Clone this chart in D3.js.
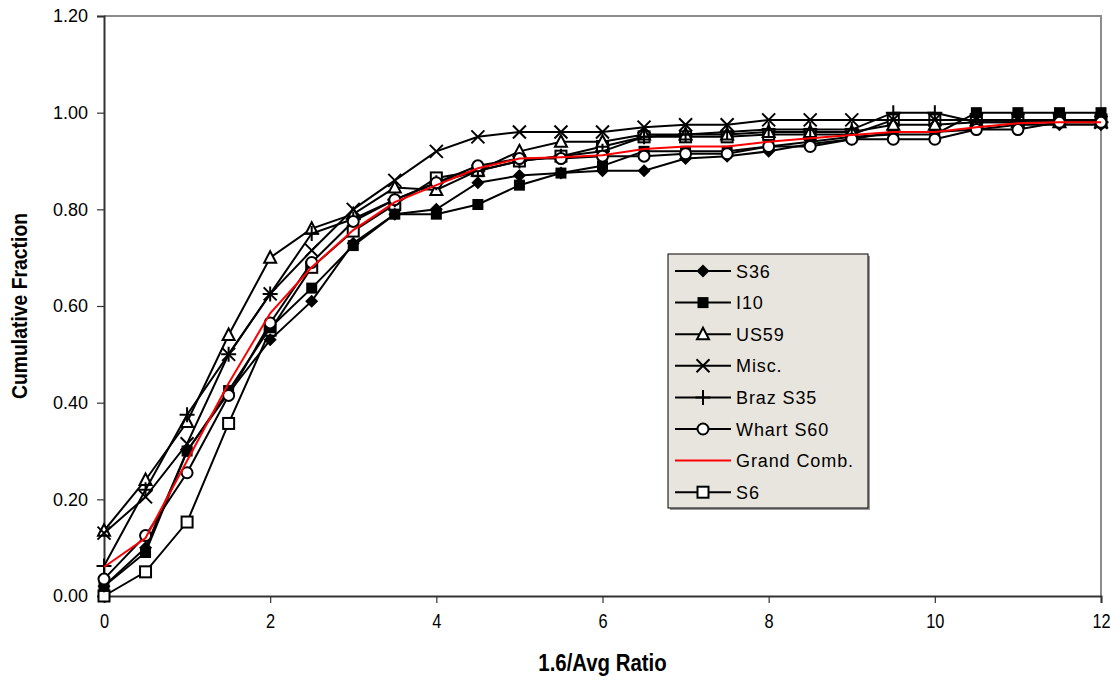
<!DOCTYPE html>
<html>
<head>
<meta charset="utf-8">
<script src="https://d3js.org/d3.v7.min.js"></script>
<style>
body { margin: 0; background: #fff; }
svg { font-family: "Liberation Sans", Arial, sans-serif; }
</style>
</head>
<body>
<div id="chart"></div>
<script>
// canvas and plot area
const FRAME_WIDTH = 1120;
const FRAME_HEIGHT = 686;
const MARGINS = {left: 104, right: 19, top: 16, bottom: 90};
const VIS_WIDTH = FRAME_WIDTH - MARGINS.left - MARGINS.right;
const VIS_HEIGHT = FRAME_HEIGHT - MARGINS.top - MARGINS.bottom;

// data
const X_VALUES = [0, 0.5, 1, 1.5, 2, 2.5, 3, 3.5, 4, 4.5, 5, 5.5, 6, 6.5, 7, 7.5, 8, 8.5, 9, 9.5, 10, 10.5, 11, 11.5, 12];
const X_TICKS = [0, 2, 4, 6, 8, 10, 12];
const Y_TICKS = [0, 0.2, 0.4, 0.6, 0.8, 1.0, 1.2];

const S36 = [0.02, 0.10, 0.30, 0.42, 0.53, 0.61, 0.73, 0.79, 0.80, 0.855, 0.87, 0.875, 0.88, 0.88, 0.905, 0.91, 0.92, 0.935, 0.945, 0.96, 0.96, 0.965, 0.975, 0.975, 0.975];
const I10 = [0.02, 0.09, 0.30, 0.425, 0.555, 0.637, 0.725, 0.79, 0.79, 0.81, 0.85, 0.875, 0.89, 0.92, 0.92, 0.92, 0.93, 0.94, 0.95, 0.955, 0.955, 1.0, 1.0, 1.0, 1.0];
const US59 = [0.135, 0.24, 0.36, 0.54, 0.70, 0.76, 0.79, 0.845, 0.84, 0.88, 0.92, 0.94, 0.94, 0.955, 0.955, 0.955, 0.96, 0.96, 0.96, 0.975, 0.975, 0.98, 0.98, 0.98, 0.98];
const MISC = [0.13, 0.205, 0.315, 0.50, 0.625, 0.715, 0.80, 0.86, 0.92, 0.95, 0.96, 0.96, 0.96, 0.97, 0.975, 0.975, 0.985, 0.985, 0.985, 0.985, 0.985, 0.985, 0.985, 0.985, 0.98];
const BRAZ_S35 = [0.062, 0.22, 0.375, 0.50, 0.625, 0.75, 0.78, 0.82, 0.855, 0.88, 0.90, 0.91, 0.92, 0.95, 0.955, 0.96, 0.965, 0.965, 0.965, 1.0, 1.0, 0.98, 0.98, 0.98, 0.98];
const WHART_S60 = [0.035, 0.125, 0.255, 0.415, 0.565, 0.69, 0.775, 0.82, 0.855, 0.89, 0.905, 0.905, 0.91, 0.91, 0.915, 0.915, 0.93, 0.93, 0.945, 0.945, 0.945, 0.965, 0.965, 0.98, 0.98];
const GRAND_COMB = [0.06, 0.12, 0.28, 0.44, 0.585, 0.68, 0.757, 0.815, 0.85, 0.885, 0.905, 0.908, 0.912, 0.925, 0.93, 0.93, 0.94, 0.947, 0.954, 0.96, 0.96, 0.97, 0.978, 0.98, 0.98];
const S6 = [0.0, 0.05, 0.153, 0.357, 0.55, 0.68, 0.755, 0.81, 0.865, 0.88, 0.90, 0.91, 0.93, 0.95, 0.95, 0.95, 0.955, 0.955, 0.955, 0.985, 0.985, 0.985, 0.985, 0.985, 0.985];

const SERIES = [
	{name: "S36", values: S36, marker: "diamond", color: "#000"},
	{name: "I10", values: I10, marker: "fsquare", color: "#000"},
	{name: "US59", values: US59, marker: "triangle", color: "#000"},
	{name: "Misc.", values: MISC, marker: "x", color: "#000"},
	{name: "Braz S35", values: BRAZ_S35, marker: "plus", color: "#000"},
	{name: "Whart S60", values: WHART_S60, marker: "circle", color: "#000"},
	{name: "Grand Comb.", values: GRAND_COMB, marker: "none", color: "#ff0000"},
	{name: "S6", values: S6, marker: "osquare", color: "#000"}
];

// draw order: red line drawn last among lines so it stays visible
const DRAW_ORDER = [7, 0, 1, 2, 3, 4, 5, 6];

const FRAME = d3.select("#chart")
				.append("svg")
					.attr("width", FRAME_WIDTH)
					.attr("height", FRAME_HEIGHT);

const X_SCALE = d3.scaleLinear()
					.domain([0, 12])
					.range([0, VIS_WIDTH]);

const Y_SCALE = d3.scaleLinear()
					.domain([0, 1.2])
					.range([VIS_HEIGHT, 0]);

const PLOT = FRAME.append("g")
				.attr("transform", "translate(" + MARGINS.left + "," + MARGINS.top + ")");

// plot area border (top / right in gray)
PLOT.append("path")
	.attr("d", "M0,0H" + VIS_WIDTH + "V" + VIS_HEIGHT)
	.attr("fill", "none")
	.attr("stroke", "#8c8c8c")
	.attr("stroke-width", 2);

// axes
const xAxis = PLOT.append("g")
	.attr("transform", "translate(0," + VIS_HEIGHT + ")")
	.call(d3.axisBottom(X_SCALE).tickValues(X_TICKS).tickSize(7).tickPadding(10).tickFormat(d3.format("d")));

const yAxis = PLOT.append("g")
	.call(d3.axisLeft(Y_SCALE).tickValues(Y_TICKS).tickSize(7).tickPadding(9).tickFormat(d3.format(".2f")));

[xAxis, yAxis].forEach(ax => {
	ax.attr("font-family", "'Liberation Sans', Arial, sans-serif");
	ax.select(".domain").attr("stroke", "#333").attr("stroke-width", 2);
	ax.selectAll(".tick line").attr("stroke", "#333").attr("stroke-width", 1.2);
	ax.selectAll(".tick text").attr("fill", "#000");
});
yAxis.attr("font-size", 18);
yAxis.selectAll(".tick text").attr("font-size", 18);
xAxis.attr("font-size", 21);
xAxis.selectAll(".tick text")
	.attr("font-size", 21)
	.attr("x", 0)
	.attr("transform", "scale(0.78,1)");

// markers
function drawMarker(g, type, cx, cy) {
	const s = 5.5;
	if (type === "diamond") {
		g.append("path")
			.attr("d", "M" + cx + "," + (cy - s - 1) + "L" + (cx + s + 1) + "," + cy + "L" + cx + "," + (cy + s + 1) + "L" + (cx - s - 1) + "," + cy + "Z")
			.attr("fill", "#000");
	} else if (type === "fsquare") {
		g.append("rect")
			.attr("x", cx - s).attr("y", cy - s)
			.attr("width", 2 * s).attr("height", 2 * s)
			.attr("fill", "#000");
	} else if (type === "osquare") {
		g.append("rect")
			.attr("x", cx - s).attr("y", cy - s)
			.attr("width", 2 * s).attr("height", 2 * s)
			.attr("fill", "#fff").attr("stroke", "#000").attr("stroke-width", 2);
	} else if (type === "triangle") {
		g.append("path")
			.attr("d", "M" + cx + "," + (cy - s - 1) + "L" + (cx + s + 0.5) + "," + (cy + s - 0.5) + "L" + (cx - s - 0.5) + "," + (cy + s - 0.5) + "Z")
			.attr("fill", "#fff").attr("stroke", "#000").attr("stroke-width", 2);
	} else if (type === "circle") {
		g.append("circle")
			.attr("cx", cx).attr("cy", cy).attr("r", s)
			.attr("fill", "#fff").attr("stroke", "#000").attr("stroke-width", 2);
	} else if (type === "x") {
		g.append("path")
			.attr("d", "M" + (cx - s - 1) + "," + (cy - s - 1) + "L" + (cx + s + 1) + "," + (cy + s + 1) +
				"M" + (cx + s + 1) + "," + (cy - s - 1) + "L" + (cx - s - 1) + "," + (cy + s + 1))
			.attr("stroke", "#000").attr("stroke-width", 2);
	} else if (type === "plus") {
		g.append("path")
			.attr("d", "M" + (cx - s - 2) + "," + cy + "L" + (cx + s + 2) + "," + cy +
				"M" + cx + "," + (cy - s - 2) + "L" + cx + "," + (cy + s + 2))
			.attr("stroke", "#000").attr("stroke-width", 2);
	}
}

const line = d3.line()
				.x((d, i) => X_SCALE(X_VALUES[i]))
				.y(d => Y_SCALE(d));

DRAW_ORDER.forEach(k => {
	const ser = SERIES[k];
	const g = PLOT.append("g");
	g.append("path")
		.datum(ser.values)
		.attr("d", line)
		.attr("fill", "none")
		.attr("stroke", ser.color)
		.attr("stroke-width", 2);
	ser.values.forEach((v, i) => {
		drawMarker(g, ser.marker, X_SCALE(X_VALUES[i]), Y_SCALE(v));
	});
});

// axis titles
FRAME.append("text")
	.attr("transform", "translate(" + (MARGINS.left + VIS_WIDTH / 2) + ",671) scale(0.85,1)")
	.attr("text-anchor", "middle")
	.attr("font-size", 24)
	.attr("font-weight", "bold")
	.text("1.6/Avg Ratio");

FRAME.append("text")
	.attr("transform", "translate(27," + (MARGINS.top + VIS_HEIGHT / 2) + ") rotate(-90) scale(0.88,1)")
	.attr("text-anchor", "middle")
	.attr("font-size", 22)
	.attr("font-weight", "bold")
	.text("Cumulative Fraction");

// legend
const LEG = {x: 668, y: 254, w: 200, h: 254, row: 31.6};
const legend = FRAME.append("g");
legend.append("rect")
	.attr("x", LEG.x + 2).attr("y", LEG.y + 2)
	.attr("width", LEG.w).attr("height", LEG.h)
	.attr("fill", "#9a9a9a");
legend.append("rect")
	.attr("x", LEG.x).attr("y", LEG.y)
	.attr("width", LEG.w).attr("height", LEG.h)
	.attr("fill", "#e8e5de")
	.attr("stroke", "#000")
	.attr("stroke-width", 1);

SERIES.forEach((ser, i) => {
	const cy = LEG.y + 17 + i * LEG.row;
	const g = legend.append("g");
	g.append("line")
		.attr("x1", 675).attr("x2", 731)
		.attr("y1", cy).attr("y2", cy)
		.attr("stroke", ser.color)
		.attr("stroke-width", 2);
	drawMarker(g, ser.marker, 703, cy);
	g.append("text")
		.attr("x", 736)
		.attr("y", cy + 6.5)
		.attr("font-size", 18)
		.attr("letter-spacing", 0.9)
		.attr("fill", "#000")
		.text(ser.name);
});
</script>
</body>
</html>
